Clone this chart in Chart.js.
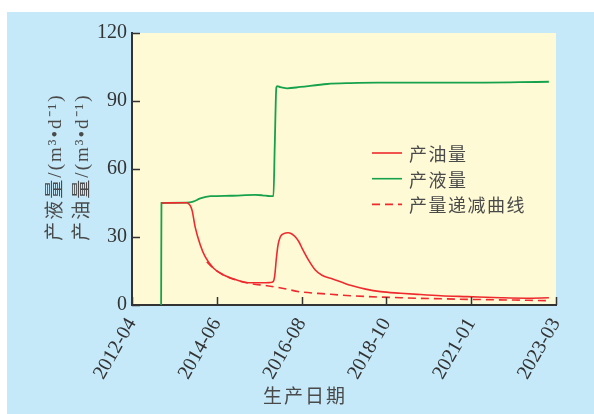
<!DOCTYPE html>
<html>
<head>
<meta charset="utf-8">
<script src="https://cdn.jsdelivr.net/npm/chart.js@4.4.0/dist/chart.umd.min.js"></script>
<style>
html,body{margin:0;padding:0;background:#fff;}
#wrap{width:594px;height:414px;position:relative;}
</style>
</head>
<body>
<div id="wrap"><canvas id="c" width="594" height="414"></canvas></div>
<script>
// x values: months since 2012-04
const xMax = 131;
const tickLabels = ['2012-04', '2014-06', '2016-08', '2018-10', '2021-01', '2023-03'];
const yTicks = [0, 30, 60, 90, 120];

const liquidX = [9.0, 9.1, 16.7, 18.9, 21.1, 24.2, 30.3, 38.1, 40.3, 42.7, 43.7, 44.1, 44.6, 44.9, 45.8, 47.9, 52.0, 60.3, 67.5, 75.8, 101.6, 128.8];
const liquidY = [0, 45.0, 45.2, 45.6, 47.0, 48.0, 48.2, 48.6, 48.4, 48.0, 48.0, 70.0, 96.0, 96.6, 96.1, 95.6, 96.2, 97.5, 97.9, 98.1, 98.1, 98.5];

const oilX = [9.1, 16.9, 18.0, 18.6, 19.5, 21.1, 22.6, 25.2, 28.3, 32.4, 36.5, 40.6, 42.7, 43.6, 44.1, 44.6, 45.1, 45.8, 46.9, 48.2, 49.4, 50.5, 51.6, 52.6, 54.6, 56.7, 58.7, 61.8, 66.0, 67.5, 72.2, 76.8, 83.0, 88.2, 95.4, 103.6, 114.0, 121.7, 128.8];
const oilY = [45.0, 45.1, 43.8, 41.5, 34.5, 26.5, 21.3, 16.2, 13.2, 11.0, 9.8, 9.8, 9.9, 10.3, 13.0, 20.5, 26.3, 30.0, 31.5, 31.9, 31.3, 30.0, 27.8, 24.9, 19.7, 15.3, 13.1, 11.6, 9.4, 8.7, 7.0, 5.9, 5.2, 4.7, 4.1, 3.7, 3.2, 3.0, 3.2];

const declineX = [23.1, 25.7, 28.8, 32.4, 36.5, 41.7, 46.8, 52.0, 59.8, 67.5, 83.0, 103.6, 117.1, 128.8];
const declineY = [19.0, 15.6, 12.9, 10.9, 9.5, 8.5, 7.3, 5.8, 4.9, 4.1, 3.2, 2.5, 2.2, 1.9];

const seriesLabels = ['产油量', '产液量', '产量递减曲线'];
const xTitle = '生产日期';
const yTitleLines = ['产液量/(m³•d⁻¹)', '产油量/(m³•d⁻¹)'];

const RED = '#ee2a2e', GREEN = '#16a24c';
const toPts = (xs, ys) => xs.map((v, i) => ({x: v, y: ys[i]}));

const bgPlugin = {
  id: 'bg',
  beforeDraw(chart) {
    const {ctx, chartArea: a, width, height} = chart;
    ctx.save();
    ctx.fillStyle = '#ffffff';
    ctx.fillRect(0, 0, width, height);
    ctx.fillStyle = '#c5e9f9';
    ctx.fillRect(7, 12, width - 7, height - 12);
    ctx.fillStyle = '#fffad6';
    ctx.fillRect(a.left, a.top, a.right - a.left, a.bottom - a.top);
    ctx.restore();
  }
};

const decoPlugin = {
  id: 'deco',
  afterDraw(chart) {
    const {ctx, chartArea: a, scales: {x, y}} = chart;
    ctx.save();
    // inward tick marks
    ctx.strokeStyle = '#333';
    ctx.lineWidth = 1.5;
    ctx.beginPath();
    x.ticks.forEach(t => {
      const px = Math.round(x.getPixelForValue(t.value)) + 0.5;
      ctx.moveTo(px, a.bottom); ctx.lineTo(px, a.bottom - 8);
    });
    y.ticks.forEach(t => {
      const py = Math.round(y.getPixelForValue(t.value)) + 0.5;
      ctx.moveTo(a.left, py); ctx.lineTo(a.left + 8, py);
    });
    ctx.stroke();

    // legend
    const lx = a.left + 240, ly = a.top + 120, gap = 25.7;
    chart.data.datasets.forEach((ds, i) => {
      const yy = ly + i * gap;
      ctx.strokeStyle = ds.borderColor;
      ctx.lineWidth = 1.6;
      ctx.setLineDash(ds.borderDash || []);
      ctx.beginPath(); ctx.moveTo(lx, yy); ctx.lineTo(lx + 30, yy); ctx.stroke();
      ctx.setLineDash([]);
      ctx.fillStyle = '#4a4a4a';
      ctx.font = '18px "Noto Sans CJK SC"';
      ctx.letterSpacing = '1.5px';
      ctx.textAlign = 'left';
      ctx.textBaseline = 'middle';
      ctx.fillText(ds.label, lx + 37, yy + 1);
    });

    // x title
    ctx.font = '19px "Noto Sans CJK SC"';
    ctx.letterSpacing = '2px';
    ctx.textAlign = 'center';
    ctx.textBaseline = 'middle';
    ctx.fillStyle = '#4a4a4a';
    ctx.fillText(xTitle, a.left + 173, 396);

    // y title (two rotated lines)
    ctx.font = '19px "Liberation Serif", "Noto Sans CJK SC"';
    ctx.letterSpacing = '2px';
    const cy = (a.top + a.bottom) / 2 - 2;
    [56, 83].forEach((cx, i) => {
      ctx.save();
      ctx.translate(cx, cy);
      ctx.rotate(-Math.PI / 2);
      ctx.fillText(yTitleLines[i], 0, 0);
      ctx.restore();
    });
    ctx.restore();
  }
};

new Chart(document.getElementById('c'), {
  type: 'line',
  data: {
    datasets: [
      {label: seriesLabels[0], data: toPts(oilX, oilY), borderColor: RED, borderWidth: 1.6, pointRadius: 0, fill: false, cubicInterpolationMode: 'monotone'},
      {label: seriesLabels[1], data: toPts(liquidX, liquidY), borderColor: GREEN, borderWidth: 1.8, pointRadius: 0, fill: false, cubicInterpolationMode: 'monotone'},
      {label: seriesLabels[2], data: toPts(declineX, declineY), borderColor: RED, borderWidth: 1.6, borderDash: [8, 5], pointRadius: 0, fill: false, cubicInterpolationMode: 'monotone'}
    ]
  },
  options: {
    responsive: false,
    animation: false,
    devicePixelRatio: 1,
    layout: {padding: {top: 33, right: 38, left: 0, bottom: 0}},
    plugins: {legend: {display: false}, tooltip: {enabled: false}},
    scales: {
      x: {
        type: 'linear', min: 0, max: xMax,
        afterFit: s => { s.height = 109; },
        afterBuildTicks: s => { s.ticks = tickLabels.map((_, i) => ({value: i * xMax / (tickLabels.length - 1)})); },
        grid: {display: false, drawTicks: false},
        border: {display: true, color: '#333', width: 2},
        ticks: {
          autoSkip: false, minRotation: 60, maxRotation: 60, padding: 9,
          color: '#333', font: {family: 'Liberation Serif', size: 20},
          callback: (v, i) => tickLabels[i]
        }
      },
      y: {
        min: 0, max: 120,
        afterFit: s => { s.width = 132; },
        afterBuildTicks: s => { s.ticks = yTicks.map(v => ({value: v})); },
        grid: {display: false, drawTicks: false},
        border: {display: true, color: '#333', width: 2},
        ticks: {padding: 5, color: '#333', font: {family: 'Liberation Serif', size: 20}}
      }
    }
  },
  plugins: [bgPlugin, decoPlugin]
});
</script>
</body>
</html>
